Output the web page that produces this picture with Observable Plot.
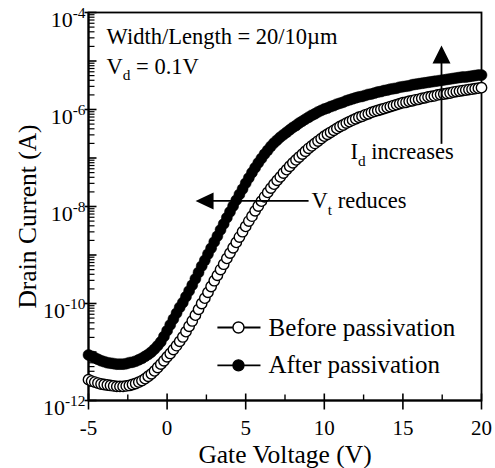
<!DOCTYPE html>
<html>
<head>
<meta charset="utf-8">
<script src="https://cdn.jsdelivr.net/npm/d3@7"></script>
<script src="https://cdn.jsdelivr.net/npm/@observablehq/plot@0.6"></script>
<style>
  html, body { margin: 0; padding: 0; background: #fff; }
  #chart svg { display: block; }
</style>
</head>
<body>
<div id="chart"></div>
<script>
// Gate voltage sweep (V), one row per volt
const gateV = [
  -5.0, -4.8, -4.6, -4.4, -4.2,
  -4.0, -3.8, -3.6, -3.4, -3.2,
  -3.0, -2.8, -2.6, -2.4, -2.2,
  -2.0, -1.8, -1.6, -1.4, -1.2,
  -1.0, -0.8, -0.6, -0.4, -0.2,
   0.0,  0.2,  0.4,  0.6,  0.8,
   1.0,  1.2,  1.4,  1.6,  1.8,
   2.0,  2.2,  2.4,  2.6,  2.8,
   3.0,  3.2,  3.4,  3.6,  3.8,
   4.0,  4.2,  4.4,  4.6,  4.8,
   5.0,  5.2,  5.4,  5.6,  5.8,
   6.0,  6.2,  6.4,  6.6,  6.8,
   7.0,  7.2,  7.4,  7.6,  7.8,
   8.0,  8.2,  8.4,  8.6,  8.8,
   9.0,  9.2,  9.4,  9.6,  9.8,
  10.0, 10.2, 10.4, 10.6, 10.8,
  11.0, 11.2, 11.4, 11.6, 11.8,
  12.0, 12.2, 12.4, 12.6, 12.8,
  13.0, 13.2, 13.4, 13.6, 13.8,
  14.0, 14.2, 14.4, 14.6, 14.8,
  15.0, 15.2, 15.4, 15.6, 15.8,
  16.0, 16.2, 16.4, 16.6, 16.8,
  17.0, 17.2, 17.4, 17.6, 17.8,
  18.0, 18.2, 18.4, 18.6, 18.8,
  19.0, 19.2, 19.4, 19.6, 19.8,
  20.0
];

// log10 of drain current (A), before passivation
const beforeLogId = [
  -11.57, -11.60, -11.62, -11.64, -11.66,
  -11.67, -11.68, -11.69, -11.70, -11.71,
  -11.71, -11.71, -11.70, -11.69, -11.67,
  -11.65, -11.62, -11.59, -11.55, -11.50,
  -11.45, -11.39, -11.32, -11.25, -11.18,
  -11.10, -11.03, -10.95, -10.87, -10.78,
  -10.69, -10.58, -10.47, -10.36, -10.24,
  -10.12, -10.00,  -9.89,  -9.77,  -9.65,
   -9.53,  -9.42,  -9.30,  -9.19,  -9.07,
   -8.96,  -8.85,  -8.74,  -8.63,  -8.52,
   -8.41,  -8.30,  -8.20,  -8.09,  -7.99,
   -7.89,  -7.80,  -7.71,  -7.62,  -7.54,
   -7.46,  -7.39,  -7.31,  -7.24,  -7.17,
   -7.10,  -7.04,  -6.98,  -6.92,  -6.86,
   -6.80,  -6.75,  -6.70,  -6.65,  -6.60,
   -6.55,  -6.51,  -6.47,  -6.43,  -6.39,
   -6.35,  -6.32,  -6.28,  -6.25,  -6.22,
   -6.19,  -6.16,  -6.14,  -6.11,  -6.09,
   -6.06,  -6.04,  -6.02,  -6.00,  -5.98,
   -5.96,  -5.94,  -5.92,  -5.90,  -5.88,
   -5.86,  -5.85,  -5.83,  -5.82,  -5.80,
   -5.79,  -5.77,  -5.76,  -5.74,  -5.73,
   -5.72,  -5.70,  -5.69,  -5.68,  -5.67,
   -5.66,  -5.64,  -5.63,  -5.62,  -5.61,
   -5.60,  -5.59,  -5.58,  -5.57,  -5.56,
   -5.55
];

// log10 of drain current (A), after passivation
const afterLogId = [
  -11.06, -11.09, -11.12, -11.15, -11.18,
  -11.20, -11.22, -11.23, -11.24, -11.25,
  -11.25, -11.25, -11.24, -11.22, -11.21,
  -11.19, -11.16, -11.13, -11.09, -11.05,
  -11.00, -10.94, -10.87, -10.79, -10.68,
  -10.56, -10.44, -10.32, -10.20, -10.08,
   -9.98,  -9.86,  -9.74,  -9.62,  -9.49,
   -9.36,  -9.23,  -9.11,  -8.98,  -8.86,
   -8.73,  -8.61,  -8.48,  -8.36,  -8.23,
   -8.11,  -7.99,  -7.87,  -7.75,  -7.64,
   -7.52,  -7.41,  -7.30,  -7.20,  -7.10,
   -7.01,  -6.92,  -6.84,  -6.76,  -6.69,
   -6.63,  -6.57,  -6.52,  -6.47,  -6.42,
   -6.37,  -6.33,  -6.28,  -6.24,  -6.20,
   -6.16,  -6.12,  -6.09,  -6.05,  -6.02,
   -5.99,  -5.97,  -5.94,  -5.92,  -5.89,
   -5.87,  -5.85,  -5.82,  -5.80,  -5.78,
   -5.76,  -5.74,  -5.73,  -5.71,  -5.69,
   -5.68,  -5.66,  -5.64,  -5.63,  -5.61,
   -5.60,  -5.58,  -5.57,  -5.56,  -5.54,
   -5.53,  -5.52,  -5.51,  -5.49,  -5.48,
   -5.47,  -5.46,  -5.45,  -5.44,  -5.43,
   -5.42,  -5.41,  -5.40,  -5.39,  -5.38,
   -5.37,  -5.36,  -5.35,  -5.34,  -5.33,
   -5.33,  -5.32,  -5.31,  -5.30,  -5.29,
   -5.29
];

const seriesNames = ["Before passivation", "After passivation"];
const xTitle = "Gate Voltage (V)";
const yTitle = "Drain Current (A)";

const xMajorTicks = [-5, 0, 5, 10, 15, 20];
const xMinorTicks = [-2.5, 2.5, 7.5, 12.5, 17.5];
const yLabelTicks = [1e-12, 1e-10, 1e-8, 1e-6, 1e-4];
const yDecadeTicks = [1e-11, 1e-9, 1e-7, 1e-5];
const yMinorMultipliers = [2, 3, 4, 5, 6, 7, 8, 9];
const yMinorTicks = [...yLabelTicks, ...yDecadeTicks]
  .filter(d => d < 1e-4)
  .flatMap(d => yMinorMultipliers.map(k => k * d));

const deviceNote = "Width/Length = 20/10µm";
const biasNote = "V_{d} = 0.1V";
const vtNote = "V_{t} reduces";
const idNote = "I_{d} increases";

// rows for the two sweeps
const before = gateV.map((v, i) => ({v, id: Math.pow(10, beforeLogId[i])}));
const after = gateV.map((v, i) => ({v, id: Math.pow(10, afterLogId[i])}));

// short tick strokes and filled arrowheads as custom symbols
const hTick = (left, right) => ({draw(c) { c.moveTo(-left, 0); c.lineTo(right, 0); }});
const vTick = (up, down) => ({draw(c) { c.moveTo(0, -up); c.lineTo(0, down); }});
const headLeft = {draw(c) { c.moveTo(0, 0); c.lineTo(18, -8.5); c.lineTo(18, 8.5); c.closePath(); }};
const headUp = {draw(c) { c.moveTo(0, 0); c.lineTo(-9, 18); c.lineTo(9, 18); c.closePath(); }};

const serif = "'Liberation Serif', 'Times New Roman', Times, serif";

const legend = [
  {name: seriesNames[0], y: 3.2e-11, fill: "white"},
  {name: seriesNames[1], y: 5.3e-12, fill: "black"}
];

const chart = Plot.plot({
  width: 495,
  height: 468,
  marginLeft: 88,
  marginRight: 14,
  marginTop: 12,
  marginBottom: 68,
  style: {fontFamily: serif, background: "white", color: "black"},
  x: {domain: [-5, 20]},
  y: {type: "log", domain: [1e-12, 1e-4]},
  marks: [
    // plot frame
    Plot.frame({stroke: "black", strokeWidth: 1.8}),
    Plot.ruleX([-5], {stroke: "black", strokeWidth: 2}),
    Plot.ruleY([1e-12], {stroke: "black", strokeWidth: 2}),

    // tick marks
    Plot.dot(xMajorTicks, {x: d => d, frameAnchor: "bottom", symbol: vTick(7, 9), stroke: "black", strokeWidth: 1.6}),
    Plot.dot(xMinorTicks, {x: d => d, frameAnchor: "bottom", symbol: vTick(6, 0), stroke: "black", strokeWidth: 1.4}),
    Plot.dot(yLabelTicks, {y: d => d, frameAnchor: "left", symbol: hTick(4, 8), stroke: "black", strokeWidth: 1.6}),
    Plot.dot(yDecadeTicks, {y: d => d, frameAnchor: "left", symbol: hTick(0, 8), stroke: "black", strokeWidth: 1.6}),
    Plot.dot(yMinorTicks, {y: d => d, frameAnchor: "left", symbol: hTick(0, 6), stroke: "black", strokeWidth: 1.2}),

    // tick labels
    Plot.axisX(xMajorTicks, {tickSize: 0, tickPadding: 20, tickFormat: d => String(d), fontSize: 21, label: null}),
    Plot.axisY(yLabelTicks, {tickSize: 0, tickPadding: 3, dy: 7, tickFormat: d => `10^{${Math.round(Math.log10(d))}}`, fontSize: 22, label: null}),

    // axis titles
    Plot.text([xTitle], {frameAnchor: "bottom", textAnchor: "middle", dy: 54, text: d => d, fontSize: 25.5, lineAnchor: "middle"}),
    Plot.text([yTitle], {frameAnchor: "left", textAnchor: "middle", dx: -61, dy: 10, rotate: -90, text: d => d, fontSize: 25.5, lineAnchor: "middle"}),

    // measured sweeps
    Plot.dot(before, {x: "v", y: "id", r: 5.2, fill: "white", stroke: "black", strokeWidth: 1.4}),
    Plot.dot(after, {x: "v", y: "id", r: 5.5, fill: "black", stroke: "black", strokeWidth: 0.5}),

    // device and bias notes
    Plot.text([deviceNote], {x: -3.85, y: 2.29e-5, text: d => d, textAnchor: "start", lineAnchor: "bottom", fontSize: 22.5}),
    Plot.text([biasNote], {x: -3.85, y: 5.48e-6, text: d => d, textAnchor: "start", lineAnchor: "bottom", fontSize: 22.5}),

    // threshold shift arrow
    Plot.link([vtNote], {x1: 2.5, x2: 9.0, y1: 1.3e-8, y2: 1.3e-8, stroke: "black", strokeWidth: 1.8}),
    Plot.dot([vtNote], {x: 1.81, y: 1.3e-8, symbol: headLeft, fill: "black", stroke: "none"}),
    Plot.text([vtNote], {x: 9.19, y: 1.3e-8, text: d => d, textAnchor: "start", lineAnchor: "middle", fontSize: 22.5}),

    // current increase arrow
    Plot.link([idNote], {x1: 17.455, x2: 17.455, y1: 1.96e-7, y2: 1.2e-5, stroke: "black", strokeWidth: 1.8}),
    Plot.dot([idNote], {x: 17.455, y: 2.08e-5, symbol: headUp, fill: "black", stroke: "none"}),
    Plot.text([idNote], {x: 11.67, y: 9.6e-8, text: d => d, textAnchor: "start", lineAnchor: "bottom", fontSize: 22.5}),

    // legend
    Plot.link(legend, {x1: () => 3.2, x2: () => 5.94, y1: "y", y2: "y", stroke: "black", strokeWidth: 1.8}),
    Plot.dot(legend, {x: () => 4.54, y: "y", r: 5.5, fill: "fill", stroke: "black", strokeWidth: 1.4}),
    Plot.text(legend, {x: () => 6.45, y: "y", text: "name", textAnchor: "start", lineAnchor: "middle", fontSize: 25})
  ]
});

document.getElementById("chart").appendChild(chart);

// turn ^{..} and _{..} markup into raised / lowered tspans
function applyScripts(root) {
  const ns = "http://www.w3.org/2000/svg";
  root.querySelectorAll("text").forEach(t => {
    const s = t.textContent;
    if (!/[_^]\{/.test(s)) return;
    const fs = parseFloat(getComputedStyle(t).fontSize) || 20;
    const parts = s.split(/([_^]\{[^}]*\})/).filter(p => p !== "");
    t.textContent = "";
    let shift = 0;
    for (const p of parts) {
      const ts = document.createElementNS(ns, "tspan");
      const m = p.match(/^([_^])\{([^}]*)\}$/);
      let target = 0;
      if (m) {
        const sup = m[1] === "^";
        target = sup ? -0.38 * fs : 0.3 * fs;
        ts.setAttribute("font-size", (sup ? 0.7 : 0.68) * fs);
        ts.textContent = m[2];
      } else {
        ts.textContent = p;
      }
      if (target !== shift) ts.setAttribute("dy", target - shift);
      shift = target;
      t.appendChild(ts);
    }
  });
}
applyScripts(chart);
</script>
</body>
</html>
